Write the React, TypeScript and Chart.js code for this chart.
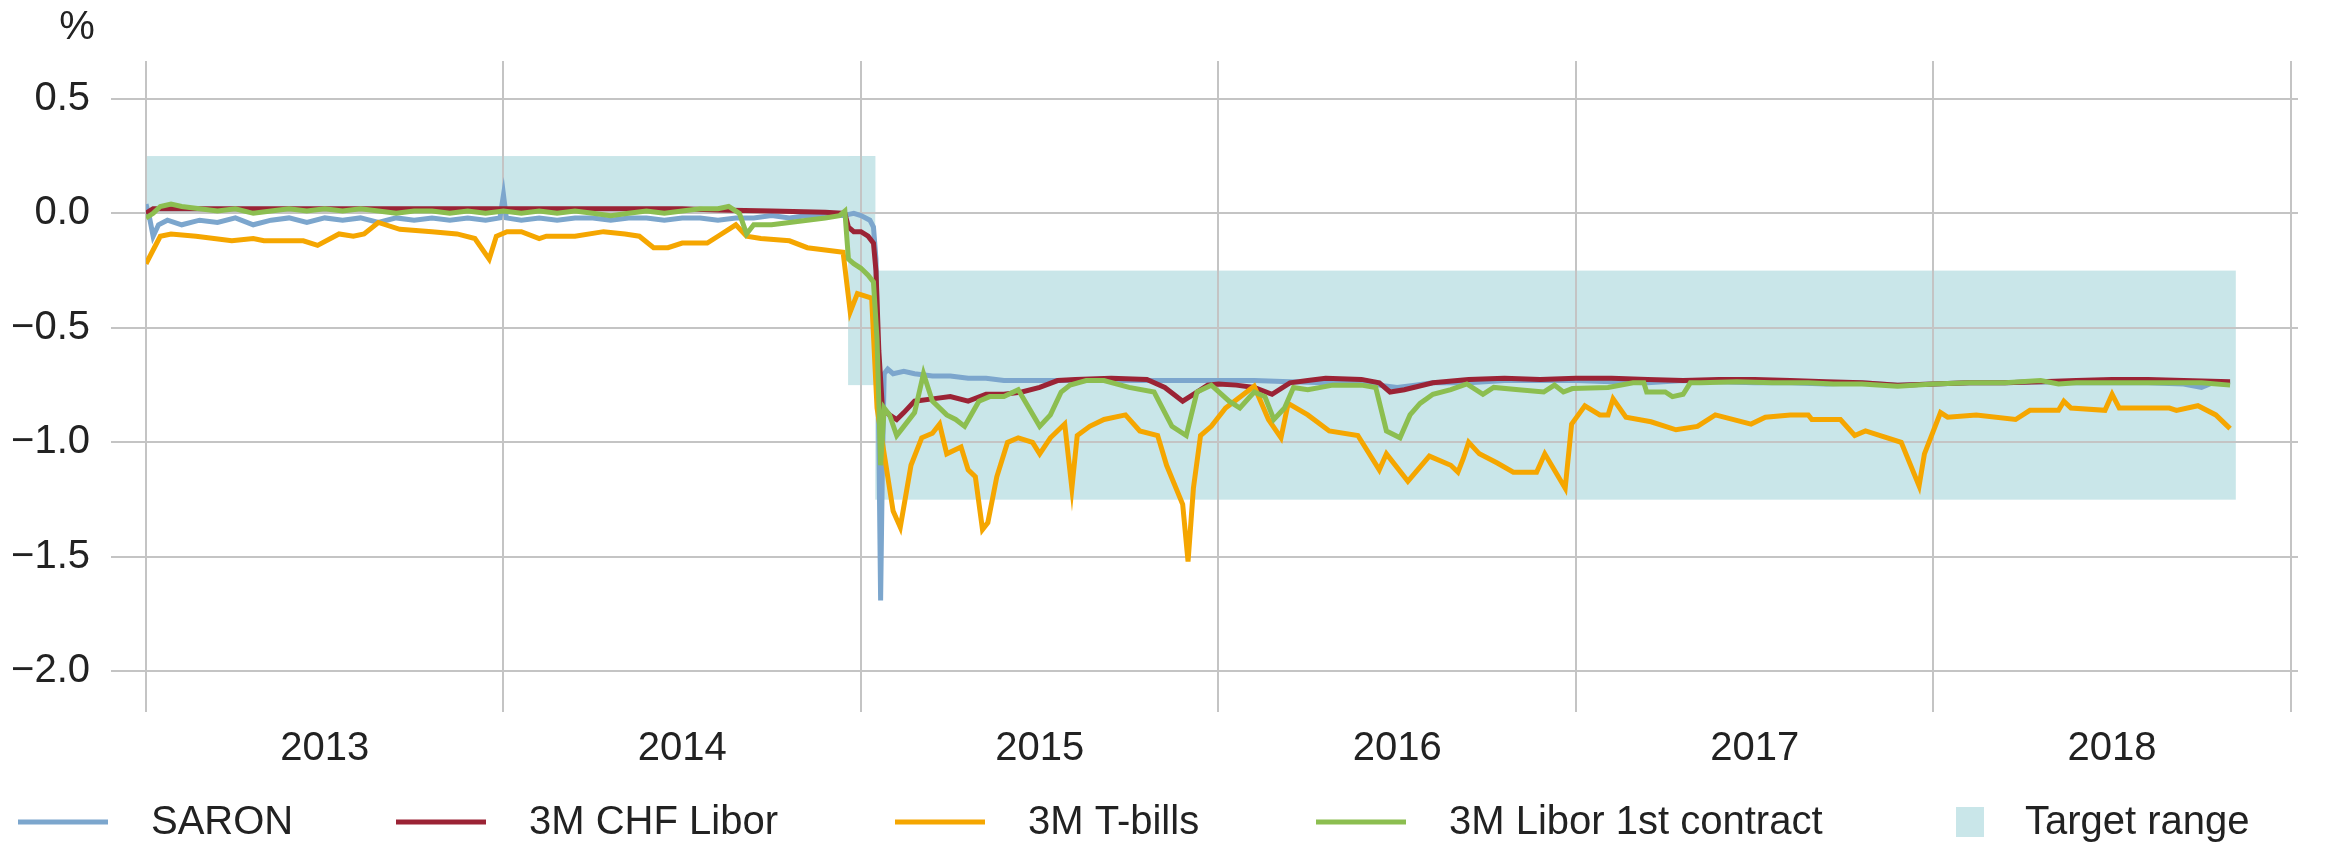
import React, { useEffect, useRef } from "react";
import { Chart, registerables } from "chart.js";

Chart.register(...registerables);

// ---------- axis ----------
const yearGridValues = [2013, 2014, 2015, 2016, 2017, 2018, 2019];
const yearLabels = ["2013", "2014", "2015", "2016", "2017", "2018"];
const valueTicks = [-2, -1.5, -1, -0.5, 0, 0.5];

// ---------- series (x = decimal year, y = %) ----------
const saronX = [
  2013.0, 2013.01, 2013.02, 2013.035, 2013.06, 2013.1, 2013.15, 2013.2, 2013.25, 2013.3, 2013.35, 2013.4,
  2013.45, 2013.5, 2013.55, 2013.6, 2013.65, 2013.7, 2013.75, 2013.8, 2013.85, 2013.9, 2013.95, 2013.99,
  2014.0, 2014.008, 2014.05, 2014.1, 2014.15, 2014.2, 2014.25, 2014.3, 2014.35, 2014.4, 2014.45, 2014.5,
  2014.55, 2014.6, 2014.65, 2014.7, 2014.75, 2014.8, 2014.85, 2014.9, 2014.95, 2014.98, 2015.0, 2015.025,
  2015.035, 2015.042, 2015.048, 2015.055, 2015.06, 2015.065, 2015.075, 2015.09, 2015.12, 2015.15, 2015.2,
  2015.25, 2015.3, 2015.35, 2015.4, 2015.5, 2015.6, 2015.7, 2015.8, 2015.9, 2016.0, 2016.1, 2016.2, 2016.3,
  2016.4, 2016.45, 2016.5, 2016.55, 2016.6, 2016.7, 2016.8, 2016.9, 2017.0, 2017.1, 2017.2, 2017.3, 2017.4,
  2017.5, 2017.6, 2017.7, 2017.8, 2017.9, 2018.0, 2018.1, 2018.2, 2018.3, 2018.4, 2018.5, 2018.6, 2018.7,
  2018.75, 2018.78, 2018.83,
];
const saronY = [
  0.04, -0.02, -0.1, -0.05, -0.03, -0.05, -0.03, -0.04, -0.02, -0.05, -0.03, -0.02,
  -0.04, -0.02, -0.03, -0.02, -0.04, -0.02, -0.03, -0.02, -0.03, -0.02, -0.03, -0.02,
  0.08, -0.02, -0.03, -0.02, -0.03, -0.02, -0.02, -0.03, -0.02, -0.02, -0.03, -0.02,
  -0.02, -0.03, -0.02, -0.02, -0.01, -0.02, -0.01, -0.01, -0.01, 0.0, -0.01, -0.03,
  -0.06, -0.2, -0.7, -1.69, -1.1, -0.7, -0.68, -0.7, -0.69, -0.7, -0.71,
  -0.71, -0.72, -0.72, -0.73, -0.73, -0.73, -0.73, -0.73, -0.73, -0.73, -0.73, -0.735, -0.74,
  -0.74, -0.75, -0.76, -0.75, -0.74, -0.74, -0.73, -0.73, -0.73, -0.735, -0.74, -0.73, -0.735,
  -0.74, -0.74, -0.745, -0.74, -0.75, -0.745, -0.74, -0.74, -0.735, -0.74, -0.74, -0.74, -0.745,
  -0.76, -0.74, -0.745,
];

const liborX = [
  2013.0, 2013.02, 2013.2, 2013.4, 2013.6, 2013.8, 2014.0, 2014.2, 2014.4, 2014.5, 2014.6, 2014.75, 2014.9,
  2014.955, 2014.965, 2014.98, 2015.0, 2015.02, 2015.035, 2015.042, 2015.05, 2015.06, 2015.08, 2015.1,
  2015.12, 2015.15, 2015.2, 2015.25, 2015.3, 2015.35, 2015.4, 2015.45, 2015.5, 2015.55, 2015.6, 2015.7,
  2015.8, 2015.85, 2015.9, 2015.93, 2015.97, 2016.0, 2016.05, 2016.1, 2016.15, 2016.2, 2016.25, 2016.3,
  2016.4, 2016.45, 2016.48, 2016.52, 2016.6, 2016.7, 2016.8, 2016.9, 2017.0, 2017.1, 2017.2, 2017.3,
  2017.4, 2017.5, 2017.6, 2017.7, 2017.8, 2017.9, 2018.0, 2018.1, 2018.2, 2018.3, 2018.4, 2018.5,
  2018.6, 2018.7, 2018.83,
];
const liborY = [
  0.0, 0.02, 0.02, 0.02, 0.02, 0.02, 0.02, 0.02, 0.02, 0.02, 0.015, 0.01, 0.005,
  0.0, -0.06, -0.08, -0.08, -0.1, -0.13, -0.25, -0.6, -0.85, -0.88, -0.9,
  -0.87, -0.82, -0.81, -0.8, -0.82, -0.79, -0.79, -0.78, -0.76, -0.73, -0.725, -0.72,
  -0.725, -0.76, -0.82, -0.79, -0.75, -0.745, -0.75, -0.76, -0.79, -0.74, -0.73, -0.72,
  -0.725, -0.74, -0.78, -0.77, -0.74, -0.725, -0.72, -0.725, -0.72, -0.72, -0.725, -0.73,
  -0.725, -0.725, -0.73, -0.735, -0.74, -0.75, -0.745, -0.74, -0.74, -0.735, -0.73, -0.725,
  -0.725, -0.73, -0.735,
];

const tbillX = [
  2013.0, 2013.04, 2013.07, 2013.14, 2013.24, 2013.3, 2013.33, 2013.38, 2013.44, 2013.48, 2013.54, 2013.58,
  2013.61, 2013.65, 2013.71, 2013.8, 2013.87, 2013.92, 2013.96, 2013.98, 2014.01, 2014.05, 2014.1, 2014.12,
  2014.2, 2014.28, 2014.34, 2014.38, 2014.42, 2014.46, 2014.5, 2014.57, 2014.6, 2014.65, 2014.68, 2014.72,
  2014.8, 2014.85, 2014.9, 2014.95, 2014.97, 2014.99, 2015.03, 2015.045, 2015.07, 2015.09, 2015.11, 2015.14,
  2015.17, 2015.2, 2015.22, 2015.24, 2015.28, 2015.3, 2015.32, 2015.34, 2015.355, 2015.38, 2015.41, 2015.44,
  2015.48, 2015.5, 2015.53, 2015.57, 2015.59, 2015.605, 2015.64, 2015.68, 2015.74, 2015.78, 2015.83, 2015.855,
  2015.9, 2015.915, 2015.93, 2015.95, 2015.98, 2016.02, 2016.1, 2016.14, 2016.175, 2016.195, 2016.25, 2016.31,
  2016.39, 2016.45, 2016.47, 2016.53, 2016.59, 2016.65, 2016.67, 2016.685, 2016.7, 2016.73, 2016.78, 2016.825,
  2016.89, 2016.913, 2016.97, 2016.988, 2017.025, 2017.067, 2017.09, 2017.104, 2017.14, 2017.21, 2017.28,
  2017.34, 2017.39, 2017.49, 2017.53, 2017.6, 2017.65, 2017.66, 2017.74, 2017.78, 2017.81, 2017.91, 2017.96,
  2017.975, 2018.02, 2018.04, 2018.12, 2018.23, 2018.27, 2018.35, 2018.365, 2018.385, 2018.48, 2018.5, 2018.52,
  2018.66, 2018.68, 2018.74, 2018.79, 2018.83,
];
const tbillY = [
  -0.22, -0.1, -0.09, -0.1, -0.12, -0.11, -0.12, -0.12, -0.12, -0.14, -0.09, -0.1,
  -0.09, -0.04, -0.07, -0.08, -0.09, -0.11, -0.2, -0.1, -0.08, -0.08, -0.11, -0.1,
  -0.1, -0.08, -0.09, -0.1, -0.15, -0.15, -0.13, -0.13, -0.1, -0.05, -0.1, -0.11,
  -0.12, -0.15, -0.16, -0.17, -0.43, -0.35, -0.37, -0.85, -1.1, -1.3, -1.37, -1.1,
  -0.98, -0.96, -0.92, -1.05, -1.02, -1.12, -1.15, -1.38, -1.35, -1.15, -1.0, -0.98,
  -1.0, -1.05, -0.98, -0.92, -1.2, -0.97, -0.93, -0.9, -0.88, -0.95, -0.97, -1.1,
  -1.27, -1.52, -1.2, -0.97, -0.93, -0.85, -0.755, -0.9, -0.98, -0.83, -0.88, -0.95,
  -0.97, -1.12, -1.05, -1.17, -1.06, -1.1, -1.13, -1.07, -1.0, -1.05, -1.09, -1.13,
  -1.13, -1.05, -1.2, -0.92, -0.84, -0.88, -0.88, -0.81, -0.89, -0.91, -0.945,
  -0.93, -0.88, -0.92, -0.89, -0.88, -0.88, -0.9, -0.9, -0.97, -0.95, -1.0, -1.19,
  -1.05, -0.87, -0.89, -0.88, -0.9, -0.86, -0.86, -0.82, -0.85, -0.86, -0.79, -0.85,
  -0.85, -0.86, -0.84, -0.88, -0.94,
];

const futureX = [
  2013.0, 2013.02, 2013.04, 2013.07, 2013.1, 2013.15, 2013.2, 2013.25, 2013.3, 2013.35, 2013.4, 2013.45,
  2013.5, 2013.55, 2013.6, 2013.65, 2013.7, 2013.75, 2013.8, 2013.85, 2013.9, 2013.95, 2014.0, 2014.05,
  2014.1, 2014.15, 2014.2, 2014.25, 2014.3, 2014.35, 2014.4, 2014.45, 2014.5, 2014.55, 2014.6, 2014.63,
  2014.66, 2014.68, 2014.7, 2014.75, 2014.8, 2014.85, 2014.9, 2014.94, 2014.955, 2014.965, 2014.98, 2015.0,
  2015.02, 2015.035, 2015.045, 2015.055, 2015.065, 2015.08, 2015.1, 2015.12, 2015.15, 2015.175, 2015.2,
  2015.24, 2015.265, 2015.29, 2015.33, 2015.36, 2015.4, 2015.44, 2015.5, 2015.53, 2015.56, 2015.585,
  2015.63, 2015.68, 2015.75, 2015.82, 2015.87, 2015.91, 2015.94, 2015.98, 2016.03, 2016.06, 2016.1,
  2016.13, 2016.155, 2016.185, 2016.21, 2016.25, 2016.32, 2016.4, 2016.44, 2016.47, 2016.508, 2016.536,
  2016.564, 2016.6, 2016.65, 2016.695, 2016.74, 2016.77, 2016.84, 2016.91, 2016.94, 2016.965, 2016.99,
  2017.09, 2017.16, 2017.19, 2017.198, 2017.25, 2017.27, 2017.3, 2017.32, 2017.35, 2017.45, 2017.55,
  2017.65, 2017.72, 2017.8, 2017.9, 2018.0, 2018.1, 2018.2, 2018.3, 2018.35, 2018.4, 2018.5, 2018.6,
  2018.7, 2018.75, 2018.83,
];
const futureY = [
  -0.02, 0.0, 0.03, 0.04, 0.03, 0.02, 0.01, 0.02, 0.0, 0.01, 0.02, 0.01,
  0.02, 0.01, 0.02, 0.01, 0.0, 0.01, 0.01, 0.0, 0.01, 0.0, 0.01, 0.0,
  0.01, 0.0, 0.01, 0.0, -0.01, 0.0, 0.01, 0.0, 0.01, 0.02, 0.02, 0.03,
  0.0, -0.09, -0.05, -0.05, -0.04, -0.03, -0.02, -0.01, 0.01, -0.2, -0.22, -0.24,
  -0.27, -0.3, -0.55, -1.1, -0.85, -0.88, -0.97, -0.93, -0.87, -0.7, -0.82,
  -0.88, -0.9, -0.93, -0.82, -0.8, -0.8, -0.77, -0.93, -0.88, -0.78, -0.75,
  -0.73, -0.73, -0.76, -0.78, -0.93, -0.97, -0.78, -0.75, -0.82, -0.85, -0.78,
  -0.8, -0.9, -0.85, -0.76, -0.77, -0.75, -0.75, -0.76, -0.95, -0.98, -0.88,
  -0.83, -0.79, -0.77, -0.745, -0.79, -0.76, -0.77, -0.78, -0.75, -0.78, -0.765,
  -0.76, -0.74, -0.74, -0.78, -0.78, -0.8, -0.79, -0.74, -0.74, -0.735, -0.74,
  -0.74, -0.745, -0.745, -0.755, -0.745, -0.74, -0.74, -0.73, -0.745, -0.74, -0.74, -0.74,
  -0.74, -0.74, -0.75,
];

// ---------- target range (SNB) ----------
const targetStart = [2013.0, 2014.964, 2015.04];
const targetEnd = [2015.04, 2015.04, 2018.846];
const targetHigh = [0.25, 0.25, -0.25];
const targetLow = [0.0, -0.75, -1.25];

// ---------- legend ----------
const legendLabels = ["SARON", "3M CHF Libor", "3M T-bills", "3M Libor 1st contract", "Target range"];
const legendColors = ["#7ca6cd", "#9b2335", "#f5a600", "#8cbe50", "#c9e6e9"];

const FONT = "'Liberation Sans', Arial, sans-serif";
const TEXT = "#222222";
const GRID = "#c4c4c4";

const targetPlugin = {
  id: "targetRange",
  beforeDraw(chart: any) {
    const { ctx, chartArea, scales } = chart;
    const xs = scales.x;
    const ys = scales.y;
    ctx.save();
    ctx.beginPath();
    ctx.rect(chartArea.left, chartArea.top, chartArea.right - chartArea.left, chartArea.bottom - chartArea.top);
    ctx.clip();
    ctx.fillStyle = legendColors[4];
    for (let i = 0; i < targetStart.length; i++) {
      const x1 = xs.getPixelForValue(targetStart[i]);
      const x2 = xs.getPixelForValue(targetEnd[i]);
      const y1 = ys.getPixelForValue(targetHigh[i]);
      const y2 = ys.getPixelForValue(targetLow[i]);
      ctx.fillRect(x1, y1, x2 - x1, y2 - y1);
    }
    ctx.restore();
  },
};

const legendPlugin = {
  id: "customLegend",
  afterDraw(chart: any) {
    const { ctx } = chart;
    ctx.save();
    ctx.font = `40px ${FONT}`;
    ctx.fillStyle = TEXT;
    ctx.textBaseline = "middle";
    ctx.textAlign = "center";
    ctx.fillText("%", 77, 28);

    const cy = 822;
    const itemX = [18, 396, 895, 1316, 1956];
    ctx.textAlign = "left";
    for (let i = 0; i < legendLabels.length; i++) {
      const x = itemX[i];
      if (i < 4) {
        ctx.strokeStyle = legendColors[i];
        ctx.lineWidth = 5;
        ctx.beginPath();
        ctx.moveTo(x, cy);
        ctx.lineTo(x + 90, cy);
        ctx.stroke();
        ctx.fillStyle = TEXT;
        ctx.fillText(legendLabels[i], x + 133, cy + 1);
      } else {
        ctx.fillStyle = legendColors[i];
        ctx.fillRect(x, cy - 15, 28, 30);
        ctx.fillStyle = TEXT;
        ctx.fillText(legendLabels[i], x + 69, cy + 1);
      }
    }
    ctx.restore();
  },
};

function pts(xs: number[], ys: number[]) {
  return xs.map((x, i) => ({ x, y: ys[i] }));
}

export default function App() {
  const ref = useRef<HTMLCanvasElement | null>(null);

  useEffect(() => {
    document.body.style.margin = "0";
    const canvas = ref.current;
    if (!canvas) return;

    const lineDs = (label: string, data: any[], color: string) => ({
      label,
      data,
      borderColor: color,
      backgroundColor: color,
      borderWidth: 5,
      pointRadius: 0,
      tension: 0,
      fill: false,
    });

    const xTickValues: number[] = [];
    yearGridValues.forEach((v, i) => {
      xTickValues.push(v);
      if (i < yearLabels.length) xTickValues.push(v + 0.5);
    });

    const chart = new Chart(canvas, {
      type: "line",
      data: {
        datasets: [
          lineDs("3M Libor 1st contract", pts(futureX, futureY), legendColors[3]),
          lineDs("3M T-bills", pts(tbillX, tbillY), legendColors[2]),
          lineDs("3M CHF Libor", pts(liborX, liborY), legendColors[1]),
          lineDs("SARON", pts(saronX, saronY), legendColors[0]),
        ],
      },
      options: {
        responsive: false,
        maintainAspectRatio: false,
        devicePixelRatio: 1,
        animation: false,
        layout: { padding: { left: 0, top: 61, right: 42, bottom: 0 } },
        plugins: {
          legend: { display: false },
          tooltip: { enabled: false },
        },
        scales: {
          x: {
            type: "linear",
            min: 2013,
            max: 2019.02,
            afterBuildTicks: (scale: any) => {
              scale.ticks = xTickValues.map((v) => ({ value: v }));
            },
            afterFit: (scale: any) => {
              scale.height = 131;
            },
            border: { display: false },
            grid: {
              drawTicks: false,
              tickLength: 0,
              lineWidth: 2,
              color: (c: any) => (c.tick && Number.isInteger(c.tick.value) ? GRID : "rgba(0,0,0,0)"),
            },
            ticks: {
              autoSkip: false,
              maxRotation: 0,
              padding: 13,
              color: TEXT,
              font: { family: FONT, size: 40 },
              callback: (v: any) => {
                const n = Number(v);
                if (Number.isInteger(n)) return "";
                const idx = yearGridValues.indexOf(Math.floor(n));
                return yearLabels[idx] ?? "";
              },
            },
          },
          y: {
            type: "linear",
            min: -2.177,
            max: 0.665,
            afterBuildTicks: (scale: any) => {
              scale.ticks = valueTicks.map((v) => ({ value: v }));
            },
            afterFit: (scale: any) => {
              scale.width = 146;
            },
            border: { display: false },
            grid: {
              drawTicks: true,
              tickLength: 35,
              lineWidth: 2,
              color: GRID,
              tickColor: GRID,
            },
            ticks: {
              padding: 21,
              color: TEXT,
              font: { family: FONT, size: 40 },
              callback: (v: any) => {
                const n = Number(v);
                const s = Math.abs(n).toFixed(1);
                return n < 0 ? "\u2212" + s : s;
              },
            },
          },
        },
      },
      plugins: [targetPlugin, legendPlugin],
    } as any);

    return () => chart.destroy();
  }, []);

  return (
    <div style={{ width: 2340, height: 843, background: "#ffffff" }}>
      <canvas ref={ref} width={2340} height={843} style={{ display: "block" }} />
    </div>
  );
}
